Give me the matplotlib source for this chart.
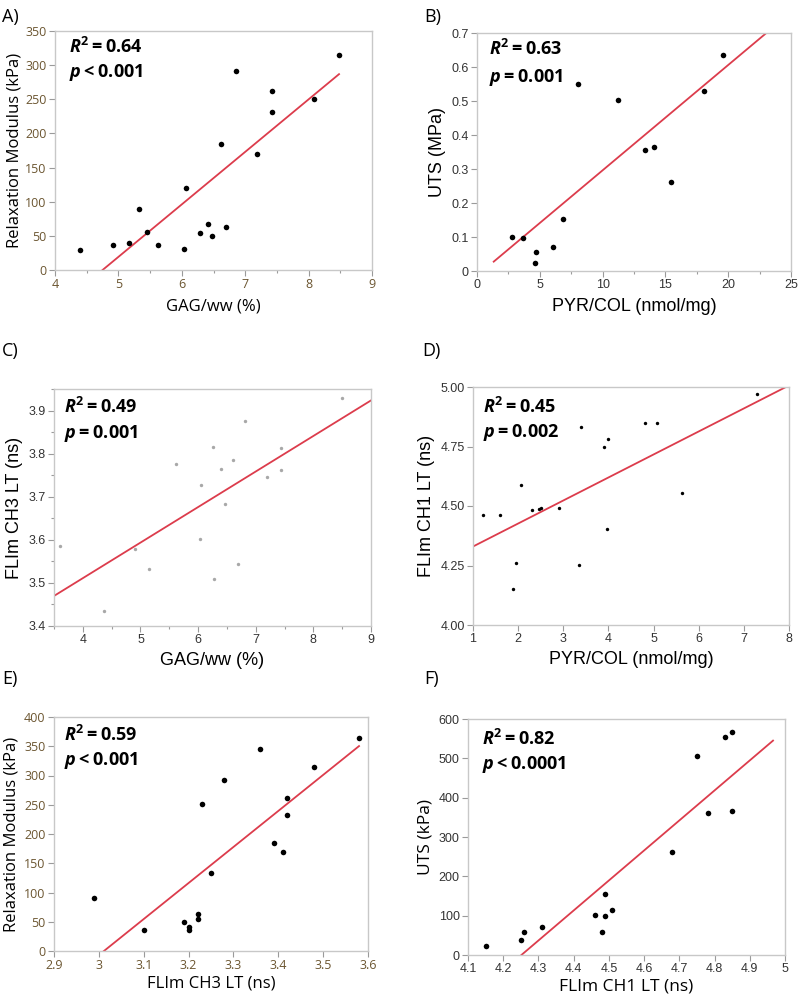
import matplotlib
matplotlib.use("Agg")
import matplotlib.pyplot as plt
import numpy as np
from matplotlib.ticker import MultipleLocator, FormatStrFormatter

plt.rcParams['mathtext.fontset'] = 'custom'
plt.rcParams['mathtext.bf'] = 'Open Sans:bold'
plt.rcParams['mathtext.bfit'] = 'Open Sans:italic:bold'
plt.rcParams['mathtext.rm'] = 'Open Sans'

# --- data ---
# A) GAG/ww vs relaxation modulus
a_x = [4.40, 4.92, 5.16, 5.33, 5.45, 5.63, 6.04, 6.07, 6.28, 6.41, 6.47, 6.62, 6.70,
       6.85, 7.19, 7.43, 7.43, 8.08, 8.48]
a_y = [29, 36, 39, 90, 55, 36, 31, 120, 54, 67, 50, 185, 63, 292, 170, 262, 232, 251, 315]

# B) PYR/COL vs UTS
b_x = [2.79, 3.67, 4.60, 4.68, 6.06, 6.88, 8.08, 11.24, 13.39, 14.08, 15.44, 18.07, 19.55]
b_y = [0.101, 0.098, 0.023, 0.057, 0.070, 0.154, 0.550, 0.504, 0.357, 0.364, 0.261, 0.528, 0.634]

# C) GAG/ww vs FLIm CH3 lifetime
c_x = [3.61, 4.37, 4.90, 5.14, 5.62, 6.03, 6.05, 6.26, 6.27, 6.40, 6.46, 6.61, 6.69,
       6.81, 7.19, 7.43, 7.43, 8.49]
c_y = [3.586, 3.435, 3.578, 3.532, 3.775, 3.601, 3.727, 3.816, 3.509, 3.765, 3.684,
       3.785, 3.545, 3.875, 3.745, 3.812, 3.761, 3.929]

# D) PYR/COL vs FLIm CH1 lifetime
d_x = [1.23, 1.60, 1.88, 1.96, 2.07, 2.30, 2.47, 2.51, 2.90, 3.34, 3.40, 3.90, 3.99,
       3.97, 4.81, 5.08, 5.63, 7.30]
d_y = [4.461, 4.461, 4.153, 4.261, 4.590, 4.482, 4.486, 4.492, 4.491, 4.252, 4.830,
       4.750, 4.781, 4.403, 4.850, 4.850, 4.553, 4.971]

# E) FLIm CH3 lifetime vs relaxation modulus
e_x = [2.99, 3.10, 3.19, 3.20, 3.20, 3.22, 3.22, 3.23, 3.25, 3.28, 3.36, 3.39, 3.41,
       3.42, 3.42, 3.48, 3.58]
e_y = [90, 36, 50, 41, 36, 63, 55, 251, 134, 292, 346, 184, 170, 262, 232, 314, 364]

# F) FLIm CH1 lifetime vs UTS
f_x = [4.15, 4.25, 4.26, 4.31, 4.46, 4.48, 4.49, 4.49, 4.51, 4.68, 4.75, 4.78, 4.83,
       4.85, 4.85]
f_y = [22, 38, 58, 70, 102, 58, 155, 99, 114, 263, 507, 360, 553, 568, 367]

# fitted lines as drawn (slope, intercept)
a_fit = (76.9, -365.3)
b_fit = (0.03098, -0.0137)
c_fit = (0.0825, 3.181)
d_fit = (0.0967, 4.233)
e_fit = (616.0, -1855.0)
f_fit = (763.0, -3244.0)

panels = [
    dict(tag="A)", x=a_x, y=a_y, fit=a_fit, fx=(4.4, 8.48),
         xlim=(4, 9), ylim=(0, 350), xt=1, yt=50, xm=0.5, ym=None, fmt="%g",
         xlabel="GAG/ww (%)", ylabel="Relaxation Modulus (kPa)",
         r2="0.64", p="<0.001", ms=16, mc="black", font="Open Sans", tc="#6b5530",
         lfont="Open Sans", xsize=12, ysize=12, xpad=5, ypad=2,
         box=(55, 31, 372, 270), tagpos=(2, 22), txt=(0.044, 0.908, 0.808)),
    dict(tag="B)", x=b_x, y=b_y, fit=b_fit, fx=(1.33, 25),
         xlim=(0, 25), ylim=(0, 0.7), xt=5, yt=0.1, xm=2.5, ym=None, fmt="%g",
         xlabel="PYR/COL (nmol/mg)", ylabel="UTS (MPa)",
         r2="0.63", p="=0.001", ms=16, mc="black", font="Liberation Sans", tc="#333333",
         lfont="Liberation Sans", xsize=13, ysize=13, xpad=5, ypad=4,
         box=(477, 33, 791, 271), tagpos=(424, 22), txt=(0.038, 0.908, 0.794)),
    dict(tag="C)", x=c_x, y=c_y, fit=c_fit, fx=(3.5, 9),
         xlim=(3.5, 9), ylim=(3.4, 3.95), xt=1, yt=0.1, xm=0.5, ym=0.05, fmt="%g",
         xlabel="GAG/ww (%)", ylabel="FLIm CH3 LT (ns)",
         r2="0.49", p="=0.001", ms=6, mc="#a8a8a8", font="Liberation Sans", tc="#333333",
         lfont="Liberation Sans", xsize=13, ysize=13, xpad=4, ypad=4,
         box=(54, 389, 371, 626), tagpos=(2, 356), txt=(0.032, 0.899, 0.793)),
    dict(tag="D)", x=d_x, y=d_y, fit=d_fit, fx=(1, 8),
         xlim=(1, 8), ylim=(4.0, 5.0), xt=1, yt=0.25, xm=None, ym=None, fmt="%.2f",
         xlabel="PYR/COL (nmol/mg)", ylabel="FLIm CH1 LT (ns)",
         r2="0.45", p="=0.002", ms=6, mc="black", font="Liberation Sans", tc="#333333",
         lfont="Liberation Sans", xsize=13, ysize=13, xpad=4, ypad=4,
         box=(473, 387, 789, 625), tagpos=(422, 356), txt=(0.032, 0.89, 0.79)),
    dict(tag="E)", x=e_x, y=e_y, fit=e_fit, fx=(2.9, 3.58),
         xlim=(2.9, 3.6), ylim=(0, 400), xt=0.1, yt=50, xm=None, ym=None, fmt="%g",
         xlabel="FLIm CH3 LT (ns)", ylabel="Relaxation Modulus (kPa)",
         r2="0.59", p="<0.001", ms=16, mc="black", font="Open Sans", tc="#6b5530",
         lfont="Open Sans", xsize=12, ysize=12, xpad=2, ypad=3,
         box=(54, 717, 368, 951), tagpos=(2, 684), txt=(0.032, 0.897, 0.795)),
    dict(tag="F)", x=f_x, y=f_y, fit=f_fit, fx=(4.1, 4.966),
         xlim=(4.1, 5.0), ylim=(0, 600), xt=0.1, yt=100, xm=None, ym=None, fmt="%g",
         xlabel="FLIm CH1 LT (ns)", ylabel="UTS (kPa)",
         r2="0.82", p="<0.0001", ms=16, mc="black", font="Liberation Sans", tc="#333333",
         lfont="Open Sans", xsize=12.5, ysize=12.5, xpad=2, ypad=4,
         box=(468, 719, 785, 955), tagpos=(424, 684), txt=(0.044, 0.89, 0.788)),
]

W, H = 800, 998
fig = plt.figure(figsize=(W / 100, H / 100), dpi=100)

for pnl in panels:
    l, t, r, b = pnl["box"]
    ax = fig.add_axes([l / W, 1 - b / H, (r - l) / W, (b - t) / H])
    ax.scatter(pnl["x"], pnl["y"], s=pnl["ms"], color=pnl["mc"], linewidths=0, zorder=3)
    slope, icpt = pnl["fit"]
    lx = np.array(pnl["fx"])
    ax.plot(lx, slope * lx + icpt, color="#dc3c4c", lw=1.3, zorder=2)
    ax.set_xlim(*pnl["xlim"])
    ax.set_ylim(*pnl["ylim"])
    ax.xaxis.set_major_locator(MultipleLocator(pnl["xt"]))
    ax.yaxis.set_major_locator(MultipleLocator(pnl["yt"]))
    ax.xaxis.set_major_formatter(FormatStrFormatter("%g"))
    ax.yaxis.set_major_formatter(FormatStrFormatter(pnl["fmt"]))
    if pnl["xm"]:
        ax.xaxis.set_minor_locator(MultipleLocator(pnl["xm"]))
    if pnl["ym"]:
        ax.yaxis.set_minor_locator(MultipleLocator(pnl["ym"]))
    for s in ax.spines.values():
        s.set_color("#c8c8c8")
        s.set_linewidth(1.0)
    ax.tick_params(which="both", direction="out", color="#9a9a9a", width=0.8)
    ax.tick_params(which="major", length=4, labelsize=9, labelcolor=pnl["tc"], pad=2)
    ax.tick_params(which="minor", length=2.5)
    for lab in ax.get_xticklabels() + ax.get_yticklabels():
        lab.set_fontfamily(pnl["font"])
    ax.set_xlabel(pnl["xlabel"], fontsize=pnl["xsize"], family=pnl["lfont"], labelpad=pnl["xpad"])
    ax.set_ylabel(pnl["ylabel"], fontsize=pnl["ysize"], family=pnl["lfont"], labelpad=pnl["ypad"])
    tx, ty1, ty2 = pnl["txt"]
    ax.text(tx, ty1, r"$\mathbfit{R}^{\mathbf{2}}\mathbf{=%s}$" % pnl["r2"],
            transform=ax.transAxes, fontsize=13, va="baseline", ha="left")
    ax.text(tx, ty2, r"$\mathbfit{p}\mathbf{%s}$" % pnl["p"],
            transform=ax.transAxes, fontsize=13, va="baseline", ha="left")
    fig.text(pnl["tagpos"][0] / W, 1 - pnl["tagpos"][1] / H, pnl["tag"],
             fontsize=13, family="Open Sans", va="baseline", ha="left")

fig.savefig("out.png", dpi=100)
